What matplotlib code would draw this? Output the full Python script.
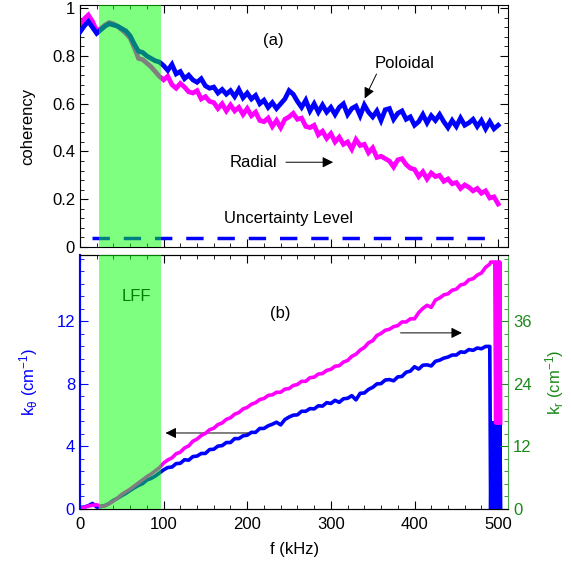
import numpy as np
import matplotlib
matplotlib.use('Agg')
import matplotlib.pyplot as plt
from matplotlib.ticker import MultipleLocator

plt.rcParams['font.family'] = ['Liberation Sans', 'DejaVu Sans']
plt.rcParams['mathtext.fontset'] = 'custom'
plt.rcParams['mathtext.rm'] = 'Liberation Sans'
plt.rcParams['mathtext.it'] = 'Liberation Sans'

# frequency grid (kHz)
f = np.arange(0, 501, 5)

# (a) coherency
coh_pol = [0.90, 0.925, 0.945, 0.92, 0.895, 0.91, 0.925, 0.935, 0.93, 0.925,
           0.915, 0.905, 0.885, 0.85, 0.82, 0.815, 0.80, 0.79, 0.78, 0.775,
           0.76, 0.74, 0.765, 0.725, 0.735, 0.705, 0.72, 0.70, 0.69, 0.705,
           0.675, 0.665, 0.67, 0.645, 0.66, 0.64, 0.655, 0.63, 0.66, 0.625,
           0.645, 0.62, 0.635, 0.60, 0.615, 0.585, 0.605, 0.58, 0.60, 0.62,
           0.655, 0.64, 0.61, 0.585, 0.615, 0.57, 0.60, 0.565, 0.595, 0.565,
           0.585, 0.555, 0.585, 0.60, 0.555, 0.58, 0.59, 0.55, 0.595, 0.565,
           0.545, 0.57, 0.53, 0.575, 0.58, 0.535, 0.56, 0.57, 0.535, 0.545,
           0.51, 0.525, 0.555, 0.52, 0.55, 0.53, 0.555, 0.525, 0.50, 0.53,
           0.505, 0.54, 0.51, 0.52, 0.535, 0.505, 0.53, 0.495, 0.525, 0.495,
           0.51]
coh_rad = [0.93, 0.955, 0.972, 0.945, 0.905, 0.915, 0.93, 0.94, 0.935, 0.925,
           0.91, 0.895, 0.875, 0.835, 0.79, 0.785, 0.77, 0.755, 0.735, 0.715,
           0.70, 0.715, 0.68, 0.665, 0.685, 0.67, 0.65, 0.645, 0.655, 0.62,
           0.63, 0.61, 0.605, 0.58, 0.60, 0.57, 0.595, 0.57, 0.585, 0.555,
           0.58, 0.55, 0.565, 0.53, 0.525, 0.54, 0.505, 0.53, 0.50, 0.535,
           0.545, 0.56, 0.535, 0.54, 0.505, 0.50, 0.51, 0.47, 0.485, 0.455,
           0.475, 0.44, 0.46, 0.43, 0.44, 0.41, 0.45, 0.425, 0.43, 0.395,
           0.415, 0.375, 0.38, 0.37, 0.36, 0.335, 0.365, 0.37, 0.345, 0.33,
           0.325, 0.295, 0.315, 0.285, 0.31, 0.295, 0.30, 0.275, 0.285, 0.265,
           0.27, 0.245, 0.26, 0.25, 0.235, 0.245, 0.225, 0.235, 0.205, 0.21,
           0.18]
uncert_level = 0.036
uncert_f = [15, 491]

# (b) wavenumbers, k_theta on left axis, k_r on right axis
k_theta = [0.08, 0.12, 0.20, 0.35, 0.12, 0.15, 0.22, 0.35, 0.55, 0.68,
           0.85, 1.00, 1.18, 1.35, 1.50, 1.62, 1.85, 1.95, 2.10, 2.30,
           2.50, 2.65, 2.68, 2.90, 2.92, 3.15, 3.12, 3.35, 3.38, 3.55,
           3.55, 3.80, 3.82, 4.02, 4.05, 4.25, 4.25, 4.50, 4.50, 4.68,
           4.72, 4.90, 4.90, 5.15, 5.15, 5.32, 5.42, 5.55, 5.38, 5.72,
           5.88, 6.00, 6.02, 6.25, 6.25, 6.42, 6.40, 6.60, 6.58, 6.80,
           6.75, 6.95, 6.82, 7.05, 7.08, 7.25, 6.98, 7.40, 7.42, 7.65,
           7.78, 8.00, 8.02, 8.25, 8.28, 8.20, 8.45, 8.48, 8.75, 8.82,
           9.10, 8.95, 9.20, 9.22, 9.15, 9.45, 9.52, 9.65, 9.72, 9.85,
           9.85, 10.05, 10.02, 10.20, 10.15, 10.30, 10.25, 10.40, 10.40]
k_r = [0.0, 0.3, 0.55, 0.7, 0.8, 0.5, 0.6, 1.0, 1.5, 2.1,
       2.8, 3.3, 3.8, 4.4, 5.0, 5.6, 6.2, 6.7, 7.3, 7.9,
       8.8, 9.4, 9.8, 10.6, 10.9, 11.7, 12.1, 13.0, 13.4, 14.1,
       14.5, 15.2, 15.5, 16.2, 16.5, 17.2, 17.5, 18.2, 18.5, 19.2,
       19.5, 20.1, 20.4, 21.0, 21.2, 21.8, 21.9, 22.4, 22.4, 23.0,
       23.1, 23.7, 23.9, 24.5, 24.5, 25.2, 25.3, 25.9, 26.0, 26.6,
       26.8, 27.4, 27.5, 28.2, 28.5, 29.3, 29.7, 30.5, 31.0, 31.9,
       32.3, 33.3, 33.7, 34.3, 34.5, 35.0, 35.2, 35.9, 35.9, 36.5,
       36.5, 37.7, 38.5, 39.1, 38.7, 40.1, 40.5, 41.1, 41.3, 42.0,
       42.2, 43.0, 43.2, 44.0, 44.2, 44.9, 45.3, 46.4, 47.0]
# last few bins above 490 kHz jump between two levels
f_tail = [491, 492, 493, 494, 495, 496, 497, 498, 499, 500, 501, 502, 503]
ktheta_tail = [0.0, 5.5, 0.0, 5.5, 0.0, 5.5, 0.0, 5.5, 0.0, 5.5, 0.0, 5.5, 0.0]
kr_tail = [47.4, 47.4, 47.4, 47.4, 47.4, 47.4, 16.5, 47.4, 16.5, 47.4, 16.5, 47.4, 16.5]

lff_band = (23, 97)

BLUE = '#0000ff'
MAG = '#ff00ff'
GREEN_TXT = '#1a8a1a'

fig = plt.figure(figsize=(5.71, 5.77), dpi=100)
ax1 = fig.add_axes([0.140, 0.572, 0.750, 0.419])
ax2 = fig.add_axes([0.140, 0.118, 0.750, 0.440])
ax3 = ax2.twinx()

# ---- (a) coherency ----
ax1.plot(f, coh_pol, color=BLUE, lw=3.4, solid_joinstyle='miter', zorder=3)
ax1.plot(f, coh_rad, color=MAG, lw=3.4, solid_joinstyle='miter', zorder=2)
ax1.plot(uncert_f, [uncert_level, uncert_level], color=BLUE, lw=2.5,
         dashes=(5, 4), zorder=2)
ax1.axvspan(*lff_band, color='#00ff00', alpha=0.5, lw=0, zorder=5)
ax1.set_xlim(0, 512)
ax1.set_ylim(0, 1.013)
ax1.set_yticks([0, 0.2, 0.4, 0.6, 0.8, 1.0])
ax1.set_yticklabels(['0', '0.2', '0.4', '0.6', '0.8', '1'])
ax1.xaxis.set_major_locator(MultipleLocator(100))
ax1.xaxis.set_minor_locator(MultipleLocator(20))
ax1.yaxis.set_minor_locator(MultipleLocator(0.04))
ax1.tick_params(which='both', direction='in', top=True, right=True,
                labelbottom=False, labelsize=12)
ax1.tick_params(which='major', length=6)
ax1.tick_params(which='minor', length=3)
ax1.set_ylabel('coherency', fontsize=12, labelpad=12)

ax1.text(231, 0.865, '(a)', fontsize=12, ha='center', va='center')
ax1.text(388, 0.77, 'Poloidal', fontsize=12, ha='center', va='center')
ax1.annotate('', xy=(339, 0.612), xytext=(356, 0.735),
             arrowprops=dict(arrowstyle='-|>', color='k', lw=0.7,
                             mutation_scale=16))
ax1.text(208, 0.355, 'Radial', fontsize=12, ha='center', va='center')
ax1.annotate('', xy=(306, 0.355), xytext=(243, 0.355),
             arrowprops=dict(arrowstyle='-|>', color='k', lw=0.7,
                             mutation_scale=16))
ax1.text(249, 0.12, 'Uncertainty Level', fontsize=12, ha='center', va='center')

# ---- (b) wavenumbers ----
ax3.plot(list(f[:len(k_r)]) + f_tail, k_r + kr_tail, color=MAG, lw=2.6, zorder=2)
ax2.plot(list(f[:len(k_theta)]) + f_tail, k_theta + ktheta_tail,
         color=BLUE, lw=2.6, zorder=2)
ax3.axvspan(*lff_band, color='#00ff00', alpha=0.5, lw=0, zorder=5)

ax2.set_xlim(0, 512)
ax2.set_ylim(0, 16.25)
ax3.set_ylim(0, 48.75)
ax2.set_yticks([0, 4, 8, 12])
ax3.set_yticks([0, 12, 24, 36])
ax2.xaxis.set_major_locator(MultipleLocator(100))
ax2.xaxis.set_minor_locator(MultipleLocator(20))
ax2.yaxis.set_minor_locator(MultipleLocator(0.8))
ax3.yaxis.set_minor_locator(MultipleLocator(2.4))
ax2.tick_params(which='both', direction='in', top=True, labelsize=12)
ax2.tick_params(axis='x', pad=6)
ax2.tick_params(axis='y', which='both', colors=BLUE)
ax2.tick_params(which='major', length=6)
ax2.tick_params(which='minor', length=3)
ax3.tick_params(which='both', direction='in', colors=GREEN_TXT, labelsize=12)
ax3.tick_params(which='major', length=6)
ax3.tick_params(which='minor', length=3)
ax2.spines['left'].set_color(BLUE)
ax2.spines['left'].set_linewidth(1.5)
ax3.spines['left'].set_color(BLUE)
ax3.spines['left'].set_linewidth(1.5)
ax3.spines['right'].set_color('#4caf4c')
ax2.spines['right'].set_visible(False)

ax2.set_xlabel('f (kHz)', fontsize=12, labelpad=7)
ax2.set_ylabel(r'k$_\theta$ (cm$^{-1}$)', fontsize=12, color=BLUE, labelpad=12)
ax3.set_ylabel(r'k$_r$ (cm$^{-1}$)', fontsize=12, color=GREEN_TXT, labelpad=8)

ax2.text(68, 13.6, 'LFF', fontsize=12, ha='center', va='center', zorder=6)
ax2.text(240, 12.5, '(b)', fontsize=12, ha='center', va='center')
ax2.annotate('', xy=(99, 4.86), xytext=(204, 4.86),
             arrowprops=dict(arrowstyle='-|>', color='k', lw=0.7,
                             mutation_scale=16))
ax3.annotate('', xy=(460, 33.8), xytext=(380, 33.8),
             arrowprops=dict(arrowstyle='-|>', color='k', lw=0.7,
                             mutation_scale=16))

fig.savefig('out.png', dpi=100)
